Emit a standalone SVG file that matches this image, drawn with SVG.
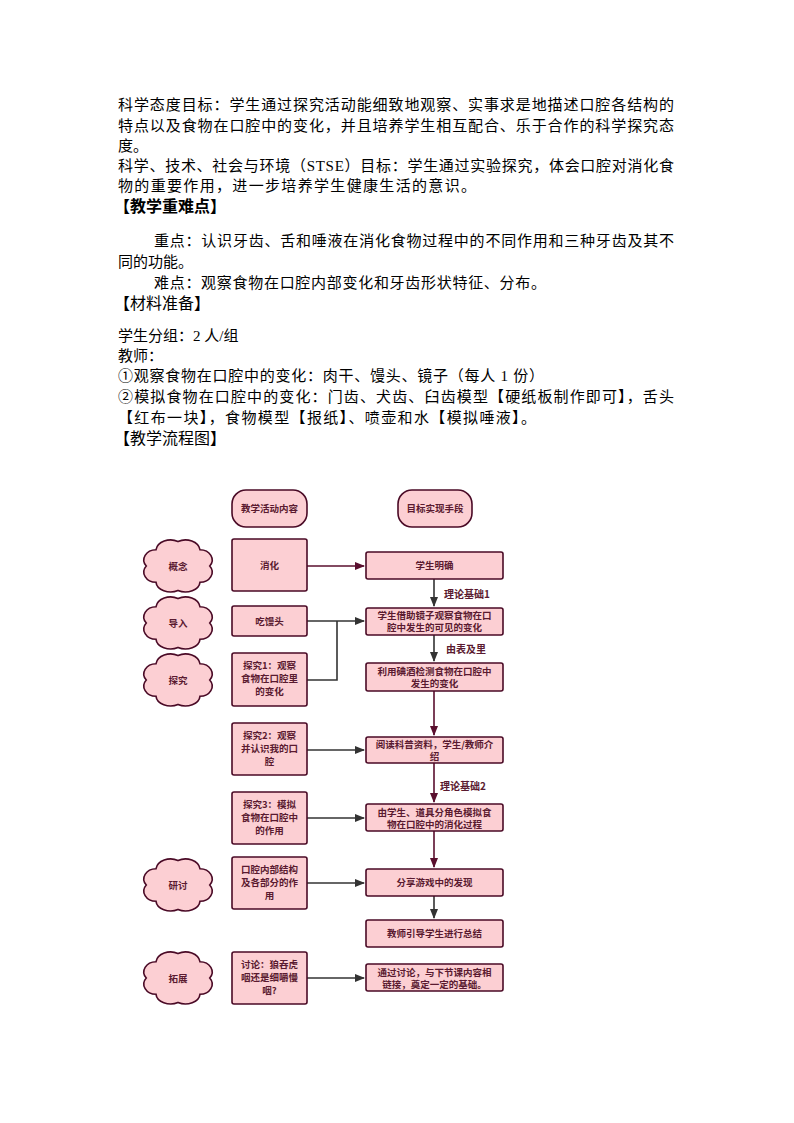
<svg xmlns="http://www.w3.org/2000/svg" width="794" height="1123" viewBox="0 0 794 1123">
<style>
.t{font-family:"Liberation Serif","Noto Sans CJK SC",serif;font-size:15px;fill:#000}
.h{font-family:"Noto Sans CJK SC",sans-serif;font-size:16px;font-weight:bold;fill:#000}
.h2{font-family:"Noto Sans CJK SC",sans-serif;font-size:16px;fill:#000}
.box{fill:#fccfd3;stroke:#4a0a26;stroke-width:1.6}
.n{font-family:"Noto Sans CJK SC",sans-serif;font-size:9.5px;font-weight:bold;fill:#5a1a30;text-anchor:middle}
.lb{font-family:"Noto Sans CJK SC",sans-serif;font-size:10px;font-weight:bold;fill:#5a1a30}
.g{fill:none;stroke:#333;stroke-width:1.6}
.m{fill:none;stroke:#5a0f2e;stroke-width:1.6}
</style>
<defs>
<marker id="ag" markerWidth="10" markerHeight="8" refX="9" refY="4" orient="auto" markerUnits="userSpaceOnUse"><path d="M0,0 L10,4 L0,8 z" fill="#333"/></marker>
<marker id="am" markerWidth="10" markerHeight="8" refX="9" refY="4" orient="auto" markerUnits="userSpaceOnUse"><path d="M0,0 L10,4 L0,8 z" fill="#5a0f2e"/></marker>
<path id="cloud" class="box" vector-effect="non-scaling-stroke" d="M-18,-16 a12,11 0 0 1 18,-8 a12,11 0 0 1 18,8 a10,10 0 0 1 8,16 a10,10 0 0 1 -8,16 a12,10 0 0 1 -18,8 a12,10 0 0 1 -18,-8 a10,10 0 0 1 -8,-16 a10,10 0 0 1 8,-16 z"/>
</defs>
<g id="text">
<text class="t" x="118" y="110" textLength="556" lengthAdjust="spacing">科学态度目标：学生通过探究活动能细致地观察、实事求是地描述口腔各结构的</text>
<text class="t" x="118" y="131" textLength="556" lengthAdjust="spacing">特点以及食物在口腔中的变化，并且培养学生相互配合、乐于合作的科学探究态</text>
<text class="t" x="118" y="151">度。</text>
<text class="t" x="118" y="171" textLength="556" lengthAdjust="spacing">科学、技术、社会与环境（STSE）目标：学生通过实验探究，体会口腔对消化食</text>
<text class="t" x="118" y="191" textLength="358" lengthAdjust="spacing">物的重要作用，进一步培养学生健康生活的意识。</text>
<text class="h" x="114" y="212">【教学重难点】</text>
<text class="t" x="154" y="246" textLength="520" lengthAdjust="spacing">重点：认识牙齿、舌和唾液在消化食物过程中的不同作用和三种牙齿及其不</text>
<text class="t" x="118" y="267">同的功能。</text>
<text class="t" x="154" y="288" textLength="392" lengthAdjust="spacing">难点：观察食物在口腔内部变化和牙齿形状特征、分布。</text>
<text class="h2" x="114" y="309">【材料准备】</text>
<text class="t" x="118" y="341">学生分组：2 人/组</text>
<text class="t" x="118" y="361">教师：</text>
<text class="t" x="118" y="381" textLength="426" lengthAdjust="spacing">①观察食物在口腔中的变化：肉干、馒头、镜子（每人 1 份）</text>
<text class="t" x="118" y="402" textLength="556" lengthAdjust="spacing">②模拟食物在口腔中的变化：门齿、犬齿、臼齿模型【硬纸板制作即可】，舌头</text>
<text class="t" x="118" y="423" textLength="418" lengthAdjust="spacing">【红布一块】，食物模型【报纸】、喷壶和水【模拟唾液】。</text>
<text class="h2" x="114" y="444">【教学流程图】</text>
</g>
<g id="connectors">
<path class="m" d="M307,566 H364" marker-end="url(#am)"/>
<path class="g" d="M307,621 H364" marker-end="url(#ag)"/>
<path class="g" d="M307,680 H337 V621"/>
<path class="g" d="M307,750 H364" marker-end="url(#ag)"/>
<path class="g" d="M307,818 H364" marker-end="url(#ag)"/>
<path class="g" d="M307,883 H364" marker-end="url(#ag)"/>
<path class="g" d="M307,978 H364" marker-end="url(#ag)"/>
<path class="g" d="M434,579 V606" marker-end="url(#ag)"/>
<path class="g" d="M434,635 V661" marker-end="url(#ag)"/>
<path class="m" d="M434,691 V735" marker-end="url(#am)"/>
<path class="m" d="M434,763 V802" marker-end="url(#am)"/>
<path class="m" d="M434,831 V867" marker-end="url(#am)"/>
<path class="g" d="M434,896 V918" marker-end="url(#ag)"/>
<text class="lb" x="444" y="598">理论基础1</text>
<text class="lb" x="446" y="653">由表及里</text>
<text class="lb" x="440" y="790">理论基础2</text>
</g>
<g id="hdr1"><rect class="box" x="232" y="490" width="75" height="37" rx="14"/><text class="n" x="269.5" y="512">教学活动内容</text></g>
<g id="hdr2"><rect class="box" x="398" y="490" width="74" height="37" rx="14"/><text class="n" x="435" y="512">目标实现手段</text></g>
<g id="c1"><use href="#cloud" transform="translate(178,566) scale(1.22,1.02)"/><text class="n" x="178" y="570">概念</text></g>
<g id="c2"><use href="#cloud" transform="translate(178,623) scale(1.22,1.02)"/><text class="n" x="178" y="627">导入</text></g>
<g id="c3"><use href="#cloud" transform="translate(178,680) scale(1.22,1.02)"/><text class="n" x="178" y="684">探究</text></g>
<g id="c4"><use href="#cloud" transform="translate(178,885) scale(1.22,1.02)"/><text class="n" x="178" y="889">研讨</text></g>
<g id="c5"><use href="#cloud" transform="translate(178,978) scale(1.22,1.02)"/><text class="n" x="178" y="982">拓展</text></g>
<g id="l1"><rect class="box" x="232" y="539" width="75" height="52" rx="2"/><text class="n" x="269.5" y="569">消化</text></g>
<g id="l2"><rect class="box" x="232" y="606" width="75" height="30" rx="2"/><text class="n" x="269.5" y="625">吃馒头</text></g>
<g id="l3"><rect class="box" x="232" y="653" width="75" height="53" rx="2"/><text class="n" x="269.5" y="669">探究1：观察</text><text class="n" x="269.5" y="682">食物在口腔里</text><text class="n" x="269.5" y="695">的变化</text></g>
<g id="l4"><rect class="box" x="232" y="723" width="75" height="52" rx="2"/><text class="n" x="269.5" y="739">探究2：观察</text><text class="n" x="269.5" y="752">并认识我的口</text><text class="n" x="269.5" y="765">腔</text></g>
<g id="l5"><rect class="box" x="232" y="792" width="75" height="52" rx="2"/><text class="n" x="269.5" y="808">探究3：模拟</text><text class="n" x="269.5" y="821">食物在口腔中</text><text class="n" x="269.5" y="834">的作用</text></g>
<g id="l6"><rect class="box" x="232" y="857" width="75" height="52" rx="2"/><text class="n" x="269.5" y="873">口腔内部结构</text><text class="n" x="269.5" y="886">及各部分的作</text><text class="n" x="269.5" y="899">用</text></g>
<g id="l7"><rect class="box" x="232" y="952" width="75" height="52" rx="2"/><text class="n" x="269.5" y="968">讨论：狼吞虎</text><text class="n" x="269.5" y="981">咽还是细嚼慢</text><text class="n" x="269.5" y="994">咽?</text></g>
<g id="r1"><rect class="box" x="366" y="552" width="137" height="27" rx="2"/><text class="n" x="434.5" y="569">学生明确</text></g>
<g id="r2"><rect class="box" x="366" y="608" width="137" height="27" rx="2"/><text class="n" x="434.5" y="619">学生借助镜子观察食物在口</text><text class="n" x="434.5" y="631">腔中发生的可见的变化</text></g>
<g id="r3"><rect class="box" x="366" y="663" width="137" height="28" rx="2"/><text class="n" x="434.5" y="675">利用碘酒检测食物在口腔中</text><text class="n" x="434.5" y="687">发生的变化</text></g>
<g id="r4"><rect class="box" x="366" y="737" width="137" height="26" rx="2"/><text class="n" x="434.5" y="748">阅读科普资料，学生/教师介</text><text class="n" x="434.5" y="760">绍</text></g>
<g id="r5"><rect class="box" x="366" y="804" width="137" height="27" rx="2"/><text class="n" x="434.5" y="816">由学生、道具分角色模拟食</text><text class="n" x="434.5" y="828">物在口腔中的消化过程</text></g>
<g id="r6"><rect class="box" x="366" y="869" width="137" height="27" rx="2"/><text class="n" x="434.5" y="886">分享游戏中的发现</text></g>
<g id="r7"><rect class="box" x="366" y="920" width="137" height="27" rx="2"/><text class="n" x="434.5" y="937">教师引导学生进行总结</text></g>
<g id="r8"><rect class="box" x="366" y="964" width="137" height="27" rx="2"/><text class="n" x="434.5" y="976">通过讨论，与下节课内容相</text><text class="n" x="434.5" y="988">链接，奠定一定的基础。</text></g>
</svg>
